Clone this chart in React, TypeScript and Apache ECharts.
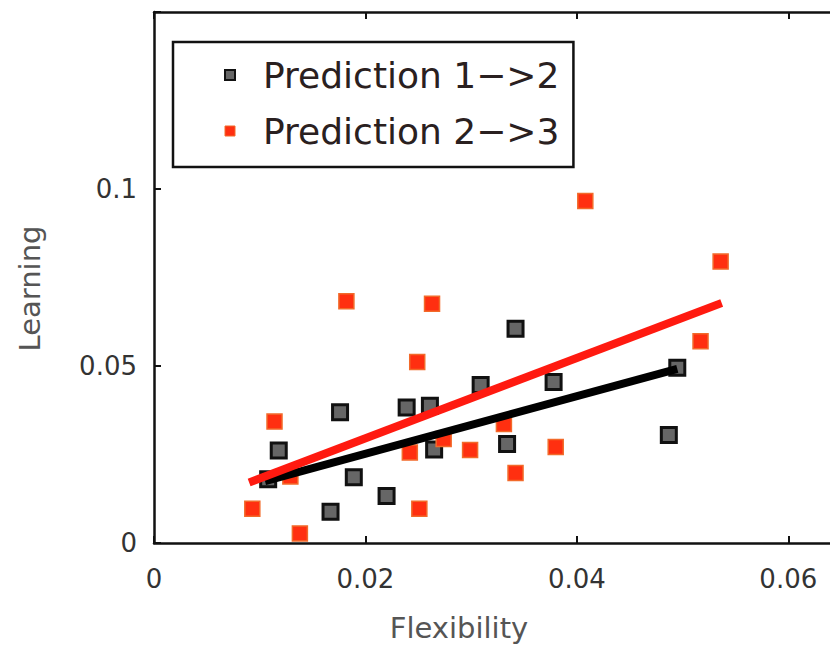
import React, { useEffect, useRef } from "react";
import * as echarts from "echarts";

const seriesNames = ["Prediction 1−>2", "Prediction 2−>3"];

const pred12X = [0.0176, 0.0239, 0.0261, 0.0118, 0.0108, 0.0189, 0.0167, 0.0220, 0.0265, 0.0309, 0.0342, 0.0378, 0.0495, 0.0334, 0.0487];
const pred12Y = [0.0369, 0.0383, 0.0388, 0.0261, 0.0180, 0.0186, 0.0088, 0.0133, 0.0264, 0.0446, 0.0605, 0.0455, 0.0495, 0.0280, 0.0305];

const pred23X = [0.0182, 0.0263, 0.0249, 0.0114, 0.0129, 0.0093, 0.0138, 0.0242, 0.0251, 0.0274, 0.0299, 0.0408, 0.0536, 0.0517, 0.0331, 0.0380, 0.0342];
const pred23Y = [0.0683, 0.0676, 0.0511, 0.0343, 0.0188, 0.0097, 0.0027, 0.0256, 0.0097, 0.0294, 0.0263, 0.0966, 0.0795, 0.0570, 0.0336, 0.0271, 0.0198];

const fit12X = [0.0105, 0.0495];
const fit12Y = [0.0175, 0.0492];
const fit23X = [0.0090, 0.0537];
const fit23Y = [0.0171, 0.0678];

const xTickLabels = ["0", "0.02", "0.04", "0.06"];
const yTickLabels = ["0", "0.05", "0.1"];

const pairs = (xs: number[], ys: number[]) => xs.map((x, i) => [x, ys[i]]);

export default function App() {
  const ref = useRef<HTMLDivElement>(null);
  useEffect(() => {
    if (!ref.current) return;
    const chart = echarts.init(ref.current, null, { renderer: "svg" });
    const font = "DejaVu Sans";
    chart.setOption({
      animation: false,
      backgroundColor: "#ffffff",
      grid: { left: 154, top: 12, width: 740, height: 536 },
      legend: {
        orient: "vertical",
        left: 173,
        top: 42,
        data: [
          { name: seriesNames[0], itemStyle: { color: "#666", borderColor: "#111", borderWidth: 2 } },
          { name: seriesNames[1], itemStyle: { color: "#ff2f10", borderColor: "#f26a2a", borderWidth: 1 } },
        ],
        icon: "rect",
        itemWidth: 10,
        itemHeight: 10,
        itemGap: 20,
        padding: [15, 14, 18, 51],
        borderColor: "#111",
        borderWidth: 2.5,
        backgroundColor: "#fff",
        textStyle: { fontFamily: font, fontSize: 36, color: "#2a2020", padding: [0, 0, 0, 23] },
      },
      xAxis: [
        {
          type: "value",
          min: 0,
          max: 0.07,
          interval: 0.02,
          position: "bottom",
          splitLine: { show: false },
          axisLine: { lineStyle: { color: "#111", width: 2.5 } },
          axisTick: { inside: true, length: 7, lineStyle: { color: "#111", width: 2 } },
          axisLabel: {
            fontFamily: font,
            fontSize: 26,
            color: "#333",
            margin: 23,
            formatter: (v: number) => xTickLabels[Math.round(v / 0.02)] ?? "",
          },
          name: "Flexibility",
          nameLocation: "middle",
          nameGap: 70,
          nameTextStyle: { fontFamily: font, fontSize: 29, color: "#555", padding: [0, 130, 0, 0] },
        },
        {
          type: "value",
          min: 0,
          max: 0.07,
          interval: 0.02,
          position: "top",
          splitLine: { show: false },
          axisLine: { lineStyle: { color: "#111", width: 2.5 } },
          axisTick: { inside: true, length: 7, lineStyle: { color: "#111", width: 2 } },
          axisLabel: { show: false },
        },
      ],
      yAxis: {
        type: "value",
        min: 0,
        max: 0.15,
        interval: 0.05,
        splitLine: { show: false },
        axisLine: { lineStyle: { color: "#111", width: 2.5 } },
        axisTick: { inside: true, length: 7, lineStyle: { color: "#111", width: 2 } },
        axisLabel: {
          fontFamily: font,
          fontSize: 26,
          color: "#333",
          margin: 17,
          formatter: (v: number) => yTickLabels[Math.round(v / 0.05)] ?? "",
        },
        name: "Learning",
        nameLocation: "middle",
        nameRotate: 90,
        nameGap: 110,
        nameTextStyle: { fontFamily: font, fontSize: 29, color: "#555", padding: [0, 22, 0, 0] },
      },
      series: [
        {
          name: seriesNames[0],
          type: "scatter",
          symbol: "rect",
          symbolSize: 15,
          data: pairs(pred12X, pred12Y),
          itemStyle: { color: "#666", borderColor: "#111", borderWidth: 3, opacity: 1 },
          z: 2,
        },
        {
          name: seriesNames[1],
          type: "scatter",
          symbol: "rect",
          symbolSize: 15,
          data: pairs(pred23X, pred23Y),
          itemStyle: { color: "#ff2f10", borderColor: "#f26a2a", borderWidth: 1.5, opacity: 1 },
          z: 2,
        },
        {
          name: "fit12",
          type: "line",
          data: pairs(fit12X, fit12Y),
          symbol: "none",
          lineStyle: { color: "#000", width: 8, cap: "butt" },
          z: 3,
        },
        {
          name: "fit23",
          type: "line",
          data: pairs(fit23X, fit23Y),
          symbol: "none",
          lineStyle: { color: "#ff1a10", width: 8, cap: "butt" },
          z: 4,
        },
      ],
    });
    return () => chart.dispose();
  }, []);
  return (
    <div
      ref={ref}
      style={{ position: "fixed", left: 0, top: 0, width: 900, height: 647, background: "#fff" }}
    />
  );
}
